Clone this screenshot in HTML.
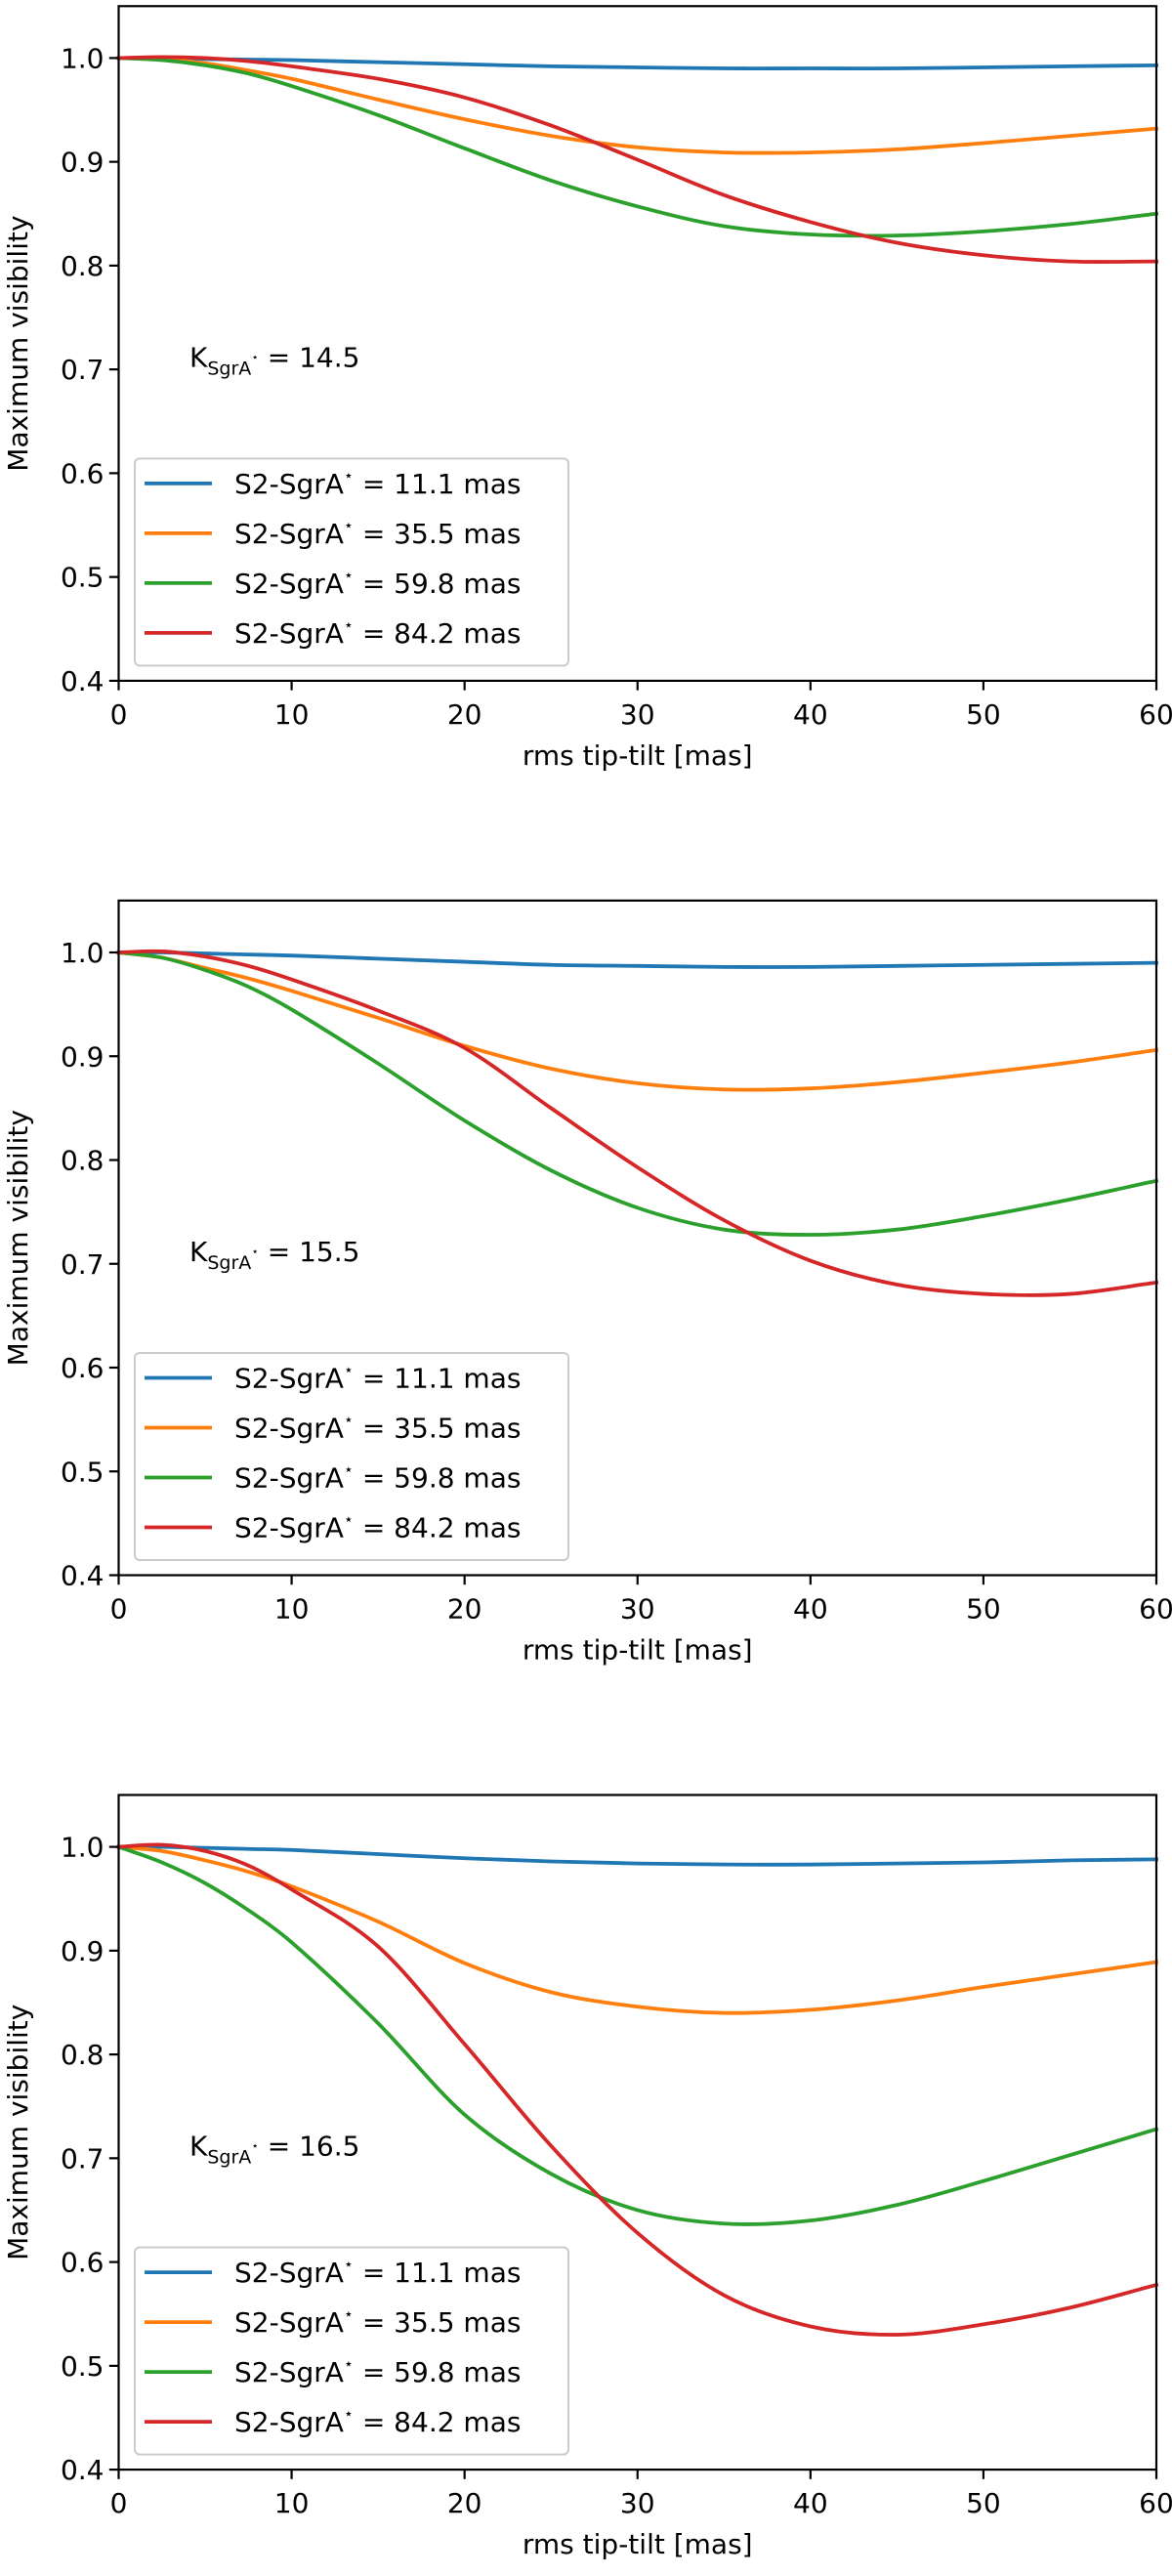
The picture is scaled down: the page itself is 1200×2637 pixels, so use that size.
<!DOCTYPE html>
<html><head><meta charset="utf-8"><style>
html,body{margin:0;padding:0;background:#fff}
svg text{font-family:"DejaVu Sans","Liberation Sans",sans-serif;fill:#000}
</style></head><body>
<svg id="fig" width="1200" height="2632" viewBox="0 0 1200 2632" xmlns="http://www.w3.org/2000/svg"></svg>
<script>
const xs = [0,2.5,5,7.5,10,15,20,25,30,35,40,45,50,55,60];
const xTicks = [0,10,20,30,40,50,60];
const yTicks = [0.4,0.5,0.6,0.7,0.8,0.9,1.0];
const seriesLabels = ["11.1","35.5","59.8","84.2"];
const colors = ["#1f77b4","#ff7f0e","#2ca02c","#d62728"];
const magnitudes = ["14.5","15.5","16.5"];
const p1Blue   = [1.0,1.0,0.999,0.9985,0.998,0.996,0.994,0.992,0.991,0.990,0.990,0.990,0.991,0.992,0.993];
const p1Orange = [1.0,0.999,0.995,0.988,0.980,0.960,0.941,0.925,0.914,0.909,0.909,0.912,0.918,0.925,0.932];
const p1Green  = [1.0,0.998,0.993,0.985,0.973,0.945,0.913,0.882,0.857,0.838,0.830,0.829,0.833,0.840,0.850];
const p1Red    = [1.0,1.001,1.0,0.997,0.992,0.980,0.962,0.935,0.902,0.868,0.842,0.822,0.810,0.804,0.804];
const p2Blue   = [1.0,1.0,0.999,0.998,0.997,0.994,0.991,0.988,0.987,0.986,0.986,0.987,0.988,0.989,0.990];
const p2Orange = [1.0,0.995,0.985,0.975,0.963,0.937,0.910,0.888,0.874,0.868,0.869,0.875,0.884,0.894,0.906];
const p2Green  = [1.0,0.995,0.983,0.967,0.945,0.893,0.838,0.790,0.754,0.733,0.728,0.733,0.746,0.762,0.780];
const p2Red    = [1.0,1.001,0.996,0.987,0.974,0.944,0.908,0.850,0.793,0.742,0.703,0.680,0.671,0.671,0.682];
const p3Blue   = [1.0,1.0,0.999,0.998,0.997,0.993,0.989,0.986,0.984,0.983,0.983,0.984,0.985,0.987,0.988];
const p3Orange = [1.0,0.996,0.987,0.976,0.962,0.928,0.888,0.860,0.846,0.840,0.843,0.852,0.865,0.877,0.889];
const p3Green  = [1.0,0.985,0.965,0.939,0.908,0.830,0.742,0.685,0.650,0.637,0.640,0.655,0.678,0.703,0.728];
const p3Red    = [1.0,1.002,0.996,0.982,0.959,0.904,0.810,0.712,0.628,0.568,0.538,0.530,0.540,0.556,0.578];
const panels = [[p1Blue,p1Orange,p1Green,p1Red],[p2Blue,p2Orange,p2Green,p2Red],[p3Blue,p3Orange,p3Green,p3Red]];

const NS="http://www.w3.org/2000/svg";
const svg=document.getElementById('fig');
function mk(tag,attrs,parent){const e=document.createElementNS(NS,tag);for(const k in attrs)e.setAttribute(k,attrs[k]);(parent||svg).appendChild(e);return e;}
const L=121.5,R=1184;
panels.forEach((series,pi)=>{
  const y10=59.4+pi*915.6, y04=y10+637.5;
  const sy=v=>y04-(v-0.4)/0.6*(y04-y10);
  const sx=v=>L+v/60*(R-L);
  const top=sy(1.05);
  const g=mk('g',{});
  
  
  series.forEach((vals,si)=>{
    const n=xs.length;
    const m=xs.map((x,i)=>{
      const a=Math.max(0,i-1),b=Math.min(n-1,i+1);
      return (vals[b]-vals[a])/(xs[b]-xs[a]);
    });
    let d='M'+sx(xs[0])+','+sy(vals[0]);
    for(let i=0;i<n-1;i++){
      const h=xs[i+1]-xs[i];
      const c1x=xs[i]+h/3, c1y=vals[i]+m[i]*h/3;
      const c2x=xs[i+1]-h/3, c2y=vals[i+1]-m[i+1]*h/3;
      d+=' C'+sx(c1x)+','+sy(c1y)+' '+sx(c2x)+','+sy(c2y)+' '+sx(xs[i+1])+','+sy(vals[i+1]);
    }
    const path=mk('path',{d:d,fill:'none',stroke:colors[si],'stroke-width':3.8,'stroke-linecap':'square'},g);
    
    
  });
  const fr=mk('rect',{x:L,y:top,width:R-L,height:y04-top,fill:'none',stroke:'#000','stroke-width':2.2},g);
  
  
  xTicks.forEach(t=>{
    mk('line',{x1:sx(t),x2:sx(t),y1:y04,y2:y04+9.7,stroke:'#000','stroke-width':2.2},g);
    const tx=mk('text',{x:sx(t),y:y04+44,'font-size':28,'text-anchor':'middle'},g);
    tx.textContent=t;
    
    
  });
  yTicks.forEach(t=>{
    mk('line',{x1:L-9.7,x2:L,y1:sy(t),y2:sy(t),stroke:'#000','stroke-width':2.2},g);
    const tx=mk('text',{x:L-15,y:sy(t)+10,'font-size':28,'text-anchor':'end'},g);
    tx.textContent=t.toFixed(1);
    
    
  });
  const xl=mk('text',{x:(L+R)/2,y:y04+86,'font-size':28,'text-anchor':'middle'},g);
  xl.textContent='rms tip-tilt [mas]';
  
  
  const yc=(top+y04)/2;
  const yl=mk('text',{x:28,y:yc,'font-size':28,'text-anchor':'middle',transform:'rotate(-90 28 '+yc+')'},g);
  yl.textContent='Maximum visibility';
  
  
  const an=mk('text',{x:194,y:y10+316,'font-size':28},g);
  
  
  an.innerHTML='K<tspan font-size="19" dy="8">SgrA</tspan><tspan font-size="12" dy="-14">⋆</tspan><tspan dy="6"> = '+magnitudes[pi]+'</tspan>';
  const lg=mk('g',{},g);
  
  
  const ly=y10+410;
  mk('rect',{x:138,y:ly,width:444,height:212,rx:5,fill:'#fff','fill-opacity':0.8,stroke:'#cccccc','stroke-width':2},lg);
  seriesLabels.forEach((s,si)=>{
    const cy=ly+25.5+si*51;
    const e=mk('g',{},lg);
    
    
    mk('line',{x1:148,x2:217,y1:cy,y2:cy,stroke:colors[si],'stroke-width':3.8},e);
    const t=mk('text',{x:240,y:cy+10,'font-size':28},e);
    t.innerHTML='S2-SgrA<tspan font-size="16" dy="-13">⋆</tspan><tspan dy="13"> = '+s+' mas</tspan>';
  });
});
</script>
</body></html>
